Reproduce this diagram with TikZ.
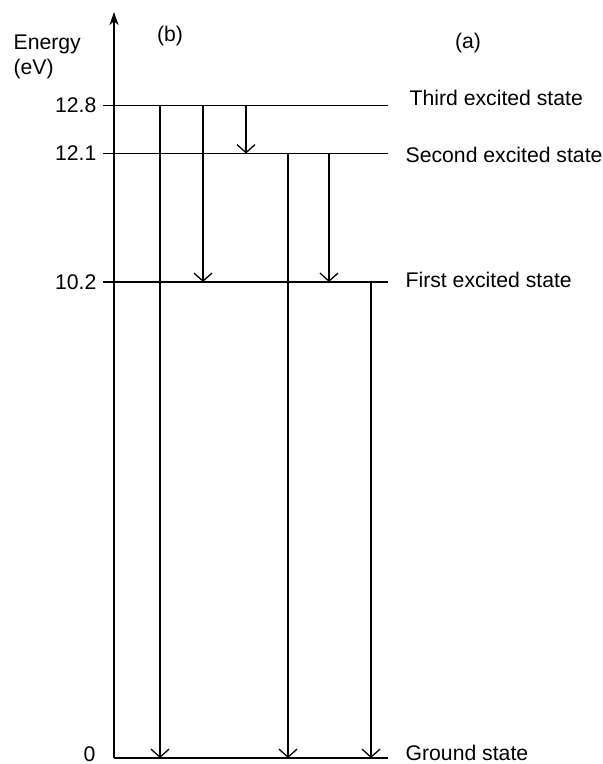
\documentclass[tikz,border=0pt]{standalone}
\usepackage{fontspec}
\setmainfont{Liberation Sans}
\usetikzlibrary{arrows.meta}
\begin{document}
\begin{tikzpicture}[x=0.5pt,y=-0.5pt,line width=0.65pt,
  >={Straight Barb[length=4pt,width=9pt]},
  lbl/.style={inner sep=0pt,font=\fontsize{10.6}{12.7}\selectfont}]
\useasboundingbox (0,0) rectangle (603,764);
% energy levels
\coordinate (L3) at (103,105.5);
\coordinate (R3) at (388,105.5);
\coordinate (L2) at (103,153.5);
\coordinate (R2) at (388,153.5);
\coordinate (L1) at (103,282);
\coordinate (R1) at (388,282);
\coordinate (O) at (114,758);
\coordinate (R0) at (388,758);
\coordinate (T) at (114,12);
\draw (L3) -- (R3);
\draw (L2) -- (R2);
\draw (L1) -- (R1);
\draw (O) -- (R0);
\draw[-{Stealth[length=6.5pt,width=4.5pt,inset=1.8pt]}] (O) -- (T);
\node[lbl,anchor=east] (v3) at (97,105.5) {12.8};
\node[lbl,anchor=east] (v2) at (97,153.5) {12.1};
\node[lbl,anchor=east] (v1) at (97,282) {10.2};
\node[lbl,anchor=base east] (v0) at (96,761) {0};
\node[lbl,anchor=west] (n3) at (409,98) {Third excited state};
\node[lbl,anchor=west] (n2) at (405,155) {Second excited state};
\node[lbl,anchor=west] (n1) at (405,280) {First excited state};
\node[lbl,anchor=base west] (n0) at (405,760) {Ground state};
\node[lbl,anchor=west] (en) at (13,44) {Energy};
\node[lbl,anchor=west] (ev) at (13,69) {(eV)};
\node[lbl] (b) at (170,36) {(b)};
\node[lbl] (a) at (468,43) {(a)};
% transitions
\coordinate (A1) at (160,105.5);
\coordinate (A2) at (203,105.5);
\coordinate (A3) at (246,105.5);
\coordinate (A4) at (288,153.5);
\coordinate (A5) at (329,153.5);
\coordinate (A6) at (371,282);
\draw[->] (A1) -- (A1 |- O);
\draw[->] (A2) -- (A2 |- L1);
\draw[->] (A3) -- (A3 |- L2);
\draw[->] (A4) -- (A4 |- O);
\draw[->] (A5) -- (A5 |- L1);
\draw[->] (A6) -- (A6 |- O);
\end{tikzpicture}
\end{document}
